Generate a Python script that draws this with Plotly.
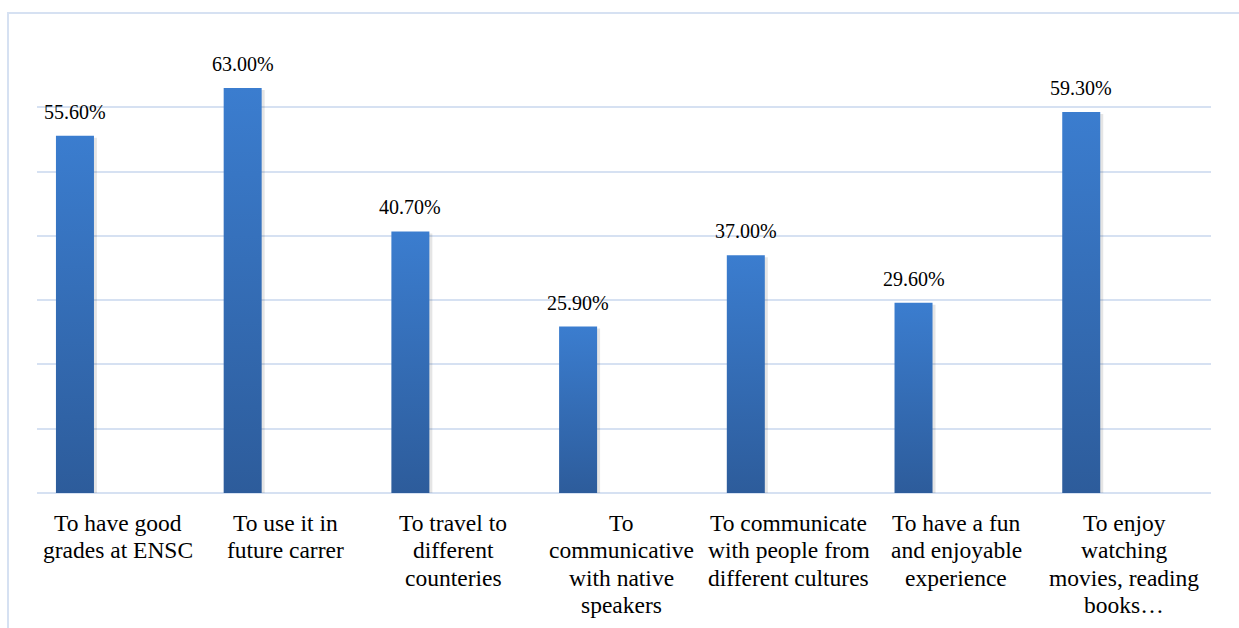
import plotly.graph_objects as go

# Survey: reasons for learning English (share of respondents, %)
categories = [
    ["To have good", "grades at ENSC"],
    ["To use it in", "future carrer"],
    ["To travel to", "different", "counteries"],
    ["To", "communicative", "with native", "speakers"],
    ["To communicate", "with people from", "different cultures"],
    ["To have a fun", "and enjoyable", "experience"],
    ["To enjoy", "watching", "movies, reading", "books…"],
]
values = [55.6, 63.0, 40.7, 25.9, 37.0, 29.6, 59.3]
value_labels = ["55.60%", "63.00%", "40.70%", "25.90%", "37.00%", "29.60%", "59.30%"]

BAR_TOP = "#3b7dcf"
BAR_BOTTOM = "#2d5c9b"
GRID = "#d6e1f2"
FONT = "Liberation Serif, 'Times New Roman', Times, serif"

# Bars sit in the left part of each category slot
bar_offset = -0.387
bar_width = 0.2266

# Approximate data units per screen pixel (for the soft drop shadow)
px_x = 7 / 1174
px_y = 70 / 450

fig = go.Figure()

for i, v in enumerate(values):
    x0 = i + bar_offset
    x1 = x0 + bar_width
    # faint drop shadow to the right/below the bar
    sx0, sx1 = x0 + 2 * px_x, x1 + 3 * px_x
    sy0, sy1 = -3 * px_y, v - 2 * px_y
    fig.add_trace(go.Scatter(
        x=[sx0, sx1, sx1, sx0, sx0],
        y=[sy0, sy0, sy1, sy1, sy0],
        mode="lines",
        line=dict(width=0),
        fill="toself",
        fillcolor="rgba(0,0,0,0.10)",
        hoverinfo="skip",
        showlegend=False,
    ))
    fig.add_trace(go.Scatter(
        x=[x0, x1, x1, x0, x0],
        y=[0, 0, v, v, 0],
        mode="lines",
        line=dict(width=0),
        fill="toself",
        fillgradient=dict(
            type="vertical",
            start=0,
            stop=v,
            colorscale=[[0, BAR_BOTTOM], [1, BAR_TOP]],
        ),
        hoverinfo="skip",
        showlegend=False,
    ))
    fig.add_annotation(
        x=x0 + bar_width / 2, y=v, xref="x", yref="y",
        text=value_labels[i], showarrow=False,
        yanchor="middle", yshift=24,
        font=dict(family=FONT, size=20, color="#000000"),
    )

# Category labels, one annotation per line for tight line spacing
line_step = 27.3
for i, lines in enumerate(categories):
    for j, line in enumerate(lines):
        fig.add_annotation(
            x=i, y=0, xref="x", yref="y",
            text=line, showarrow=False,
            xanchor="center", yanchor="middle",
            xshift=-3, yshift=-(30 + j * line_step),
            font=dict(family=FONT, size=23.5, color="#000000"),
        )

# Outer frame of the chart area
fig.add_shape(
    type="rect", xref="paper", yref="paper",
    xsizemode="pixel", ysizemode="pixel",
    xanchor=0, yanchor=1,
    x0=-29, x1=1260, y0=30, y1=-700,
    line=dict(color=GRID, width=2),
    fillcolor="rgba(0,0,0,0)",
    layer="below",
)

fig.update_layout(
    width=1239, height=628,
    margin=dict(l=37, r=28, t=43, b=135),
    paper_bgcolor="white",
    plot_bgcolor="white",
    font=dict(family=FONT),
    xaxis=dict(
        range=[-0.5, 6.5],
        showgrid=False, zeroline=False,
        showticklabels=False, ticks="",
        fixedrange=True,
    ),
    yaxis=dict(
        range=[0, 70.02],
        dtick=10, tick0=0,
        showgrid=True, gridcolor=GRID, gridwidth=2,
        zeroline=True, zerolinecolor=GRID, zerolinewidth=2,
        showticklabels=False, ticks="",
        fixedrange=True,
    ),
)

fig.write_html("out.html")
